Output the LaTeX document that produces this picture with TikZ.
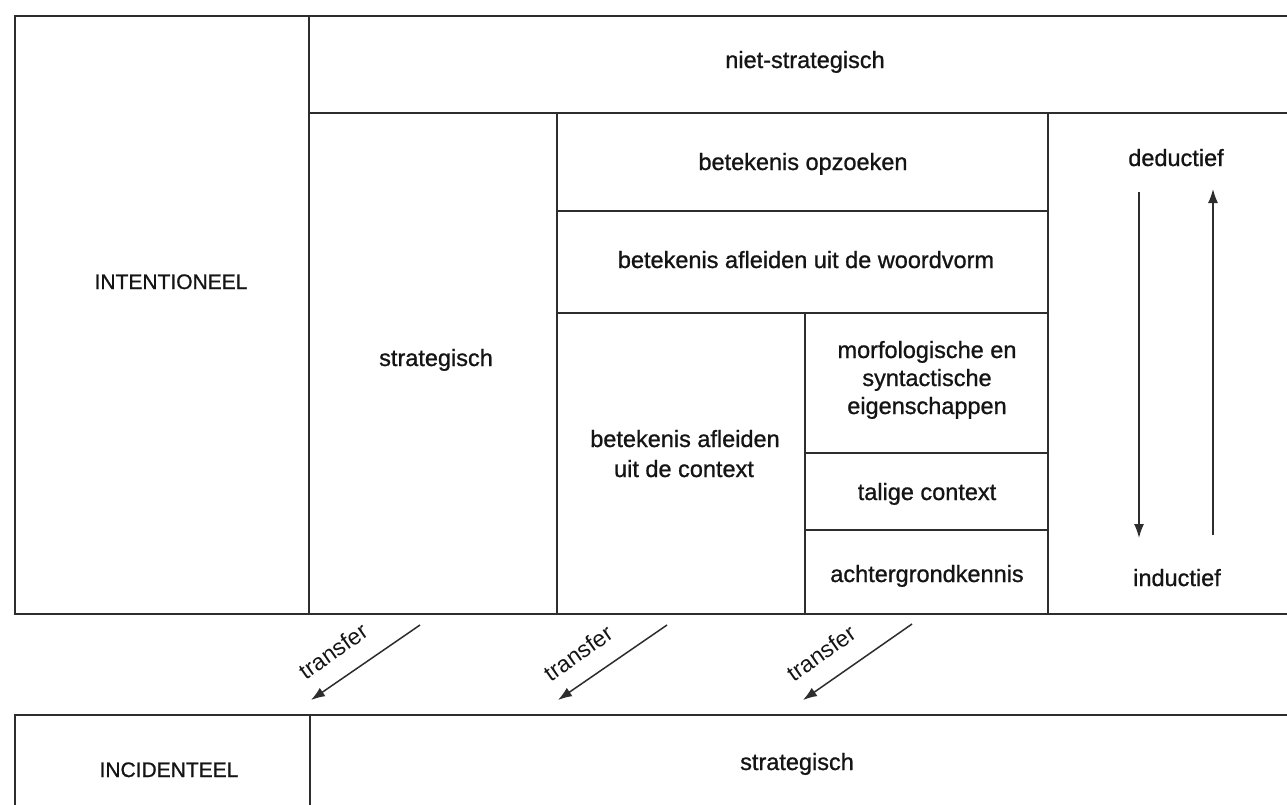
\documentclass[tikz,border=0pt]{standalone}
\usepackage{fontspec}
\setmainfont{Liberation Sans}
\newfontfamily\dkfont{Liberation Sans}[FakeBold=0.9]
\usetikzlibrary{arrows.meta}
\definecolor{linec}{RGB}{45,45,45}
\definecolor{txtc}{RGB}{20,20,20}
\begin{document}
\begin{tikzpicture}[x=1pt,y=-1pt,
  gridline/.style={line width=2pt, draw=linec, line cap=round},
  lbl/.style={font=\dkfont\fontsize{23.5}{28}\selectfont, text=txtc, anchor=base, inner sep=0pt},
  caplbl/.style={font=\dkfont\fontsize{21}{25}\selectfont, text=txtc, anchor=base, inner sep=0pt},
  tlbl/.style={font=\fontsize{23}{27}\selectfont, text=txtc, anchor=center, inner sep=0pt, rotate=35},
  arr/.style={line width=1.5pt, draw=linec, -{Latex[length=14pt,width=10pt]}}]
\useasboundingbox (0,0) rectangle (1287,804);
\fill[white] (0,0) rectangle (1287,804);
\clip (0,0) rectangle (1287,804);

% upper block
\draw[gridline] (1300,16) -- (15,16) -- (15,614) -- (1300,614);
\draw[gridline] (309,16) -- (309,614);
\draw[gridline] (309,113) -- (1300,113);
\draw[gridline] (557,113) -- (557,614);
\draw[gridline] (1048,113) -- (1048,614);
\draw[gridline] (557,211) -- (1048,211);
\draw[gridline] (557,313) -- (1048,313);
\draw[gridline] (805,313) -- (805,614);
\draw[gridline] (805,453) -- (1048,453);
\draw[gridline] (805,530) -- (1048,530);

% lower block
\draw[gridline] (15,830) -- (15,715) -- (1300,715);
\draw[gridline] (310,715) -- (310,830);

% texts
\node[lbl] (niet) at (805,68) {niet-strategisch};
\node[caplbl] (intent) at (171,289) {INTENTIONEEL};
\node[lbl] (strat) at (436,366) {strategisch};
\node[lbl] (opz) at (803,170) {betekenis opzoeken};
\node[lbl] (woord) at (806,268) {betekenis afleiden uit de woordvorm};
\node[lbl] (ctxa) at (685,447) {betekenis afleiden};
\node[lbl] (ctxb) at (684,477) {uit de context};
\node[lbl] (morfa) at (927,358) {morfologische en};
\node[lbl] (morfb) at (927,386) {syntactische};
\node[lbl] (morfc) at (927,414) {eigenschappen};
\node[lbl] (talig) at (927,500) {talige context};
\node[lbl] (achter) at (927,582) {achtergrondkennis};
\node[lbl] (deduc) at (1176,166) {deductief};
\node[lbl] (induc) at (1177,586) {inductief};
\node[caplbl] (incid) at (169,777) {INCIDENTEEL};
\node[lbl] (strat2) at (797,770) {strategisch};

% deductief / inductief arrows
\coordinate (dtop) at (1139,192);
\coordinate (dbot) at (1139,538);
\coordinate (ubot) at (1213,535);
\coordinate (utop) at (1213,189);
\draw[arr] (dtop) -- (dbot);
\draw[arr] (ubot) -- (utop);

% transfer arrows
\coordinate (ta1) at (420,625); \coordinate (tb1) at (311,700);
\coordinate (ta2) at (667,625); \coordinate (tb2) at (558,700);
\coordinate (ta3) at (912,624); \coordinate (tb3) at (803,700);
\draw[arr] (ta1) -- (tb1);
\draw[arr] (ta2) -- (tb2);
\draw[arr] (ta3) -- (tb3);
\node[tlbl] (tr1) at (333,651) {transfer};
\node[tlbl] (tr2) at (578,653) {transfer};
\node[tlbl] (tr3) at (821,653) {transfer};
\end{tikzpicture}
\end{document}
